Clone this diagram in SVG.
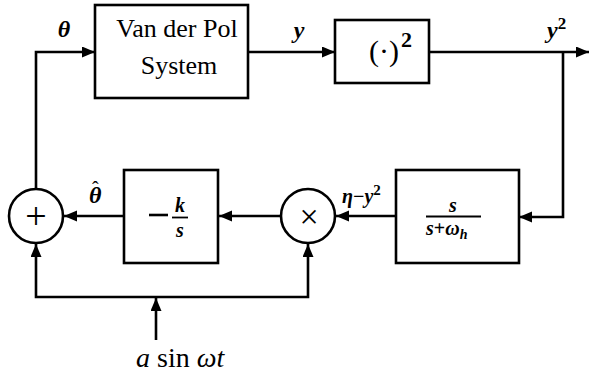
<svg xmlns="http://www.w3.org/2000/svg" width="589" height="375" viewBox="0 0 589 375">
<style>
.box{fill:#fff;stroke:#000;stroke-width:2.6}
.ln{fill:none;stroke:#000;stroke-width:2.6}
.t{font-family:"Liberation Serif","DejaVu Serif",serif;fill:#000}
.m{font-family:"Liberation Serif","DejaVu Serif",serif;font-style:italic;font-weight:bold;fill:#000}
.sup{font-style:normal;font-weight:bold}
</style>
<defs>
<marker id="ah" markerUnits="userSpaceOnUse" markerWidth="14" markerHeight="12" refX="13" refY="5.5" orient="auto">
<path d="M0,0 L13,5.5 L0,11 z" fill="#000"/>
</marker>
</defs>
<rect width="589" height="375" fill="#fff"/>
<g id="connectors">
<path class="ln" d="M36,189 V52 H95" marker-end="url(#ah)"/>
<path class="ln" d="M248,52 H335" marker-end="url(#ah)"/>
<path class="ln" d="M429,52 H589" marker-end="url(#ah)"/>
<path class="ln" d="M563,52 V217 H519" marker-end="url(#ah)"/>
<path class="ln" d="M396,216 H336" marker-end="url(#ah)"/>
<path class="ln" d="M281,216 H219" marker-end="url(#ah)"/>
<path class="ln" d="M124,216 H64" marker-end="url(#ah)"/>
<path class="ln" d="M156,297 H36 V244" marker-end="url(#ah)"/>
<path class="ln" d="M156,297 H308 V244" marker-end="url(#ah)"/>
<path class="ln" d="M156,340 V298" marker-end="url(#ah)"/>
</g>
<g id="vdp">
<rect class="box" x="95" y="5" width="153" height="93"/>
<text class="t" x="177" y="37" font-size="26" text-anchor="middle">Van der Pol</text>
<text class="t" x="179" y="74" font-size="26" text-anchor="middle">System</text>
</g>
<g id="square">
<rect class="box" x="335" y="20" width="94" height="63"/>
<text class="t" x="384" y="61" font-size="30" text-anchor="middle">(·)</text>
<text class="t" x="401" y="47" font-size="22" font-weight="bold">2</text>
</g>
<g id="filter">
<rect class="box" x="396" y="170" width="123" height="93"/>
<text class="m" x="453" y="212" font-size="20" text-anchor="middle">s</text>
<line x1="426" y1="216.5" x2="481" y2="216.5" stroke="#000" stroke-width="1.8"/>
<text class="m" x="426" y="235" font-size="20">s<tspan font-style="normal">+</tspan>ω<tspan font-size="14" dy="4">h</tspan></text>
</g>
<g id="mult">
<circle class="box" cx="308" cy="216" r="27"/>
<text class="t" x="309" y="228" font-size="34" text-anchor="middle">×</text>
</g>
<g id="integrator">
<rect class="box" x="124" y="170" width="94" height="93"/>
<line x1="149" y1="215" x2="168" y2="215" stroke="#000" stroke-width="2.6"/>
<text class="m" x="180" y="212" font-size="20" text-anchor="middle">k</text>
<line x1="172" y1="217.5" x2="188" y2="217.5" stroke="#000" stroke-width="1.8"/>
<text class="m" x="180" y="237" font-size="20" text-anchor="middle">s</text>
</g>
<g id="sum">
<circle class="box" cx="36" cy="216" r="27"/>
<text class="t" x="36" y="229" font-size="38" text-anchor="middle">+</text>
</g>
<g id="labels">
<text class="m" x="64" y="37" font-size="24" text-anchor="middle">θ</text>
<text class="m" x="299" y="38" font-size="24" text-anchor="middle">y</text>
<text class="m" x="547" y="38" font-size="24">y<tspan class="sup" font-size="17" dy="-9">2</tspan></text>
<text class="m" x="89" y="203" font-size="24">θ<tspan x="92" y="196" font-style="normal" font-weight="normal" font-size="20">ˆ</tspan></text>
<text class="m" x="342" y="203" font-size="20">η<tspan font-style="normal">−</tspan>y<tspan class="sup" font-size="15" dy="-8">2</tspan></text>
<text class="t" x="136" y="367" font-size="28"><tspan font-style="italic">a</tspan> sin <tspan font-style="italic">ωt</tspan></text>
</g>
</svg>
